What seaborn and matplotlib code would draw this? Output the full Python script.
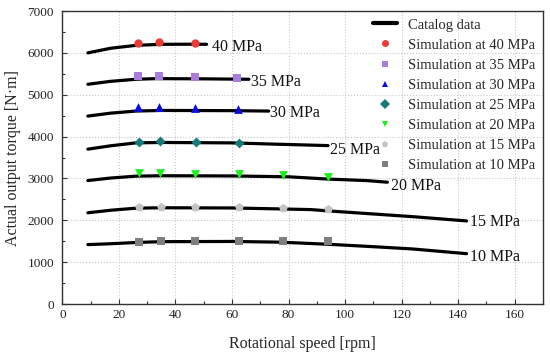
import matplotlib
matplotlib.use("Agg")
import matplotlib.pyplot as plt
from matplotlib.lines import Line2D
from matplotlib.ticker import MultipleLocator
import seaborn as sns
import pandas as pd

sns.set_theme(style="ticks")
plt.rcParams['font.family'] = ['Liberation Serif', 'DejaVu Serif']

pressures = [40, 35, 30, 25, 20, 15, 10]

# Catalog data (rpm, torque N·m)
cat_x = {
    40: [9, 17, 26, 35, 45, 51],
    35: [9, 17, 26, 33, 50, 66],
    30: [9, 17, 26, 35, 60, 73],
    25: [9, 17, 26, 35, 60, 75, 86, 94],
    20: [9, 17, 26, 35, 60, 80, 94, 108, 115],
    15: [9, 17, 26, 35, 60, 77, 88, 94, 124, 143],
    10: [9, 17, 26, 35, 60, 77, 94, 110, 124, 143],
}
cat_y = {
    40: [6000, 6110, 6180, 6205, 6207, 6205],
    35: [5250, 5320, 5370, 5385, 5380, 5370],
    30: [4490, 4560, 4610, 4625, 4620, 4610],
    25: [3700, 3780, 3850, 3860, 3850, 3820, 3800, 3785],
    20: [2950, 3010, 3055, 3065, 3060, 3040, 2985, 2948, 2910],
    15: [2180, 2240, 2290, 2300, 2295, 2272, 2256, 2225, 2087, 1985],
    10: [1420, 1440, 1470, 1490, 1495, 1478, 1428, 1370, 1315, 1203],
}

# Simulation results
sim_x = {
    40: [26.8, 34.3, 47.0],
    35: [26.8, 34.3, 47.0, 61.6],
    30: [26.8, 34.3, 47.0, 62.0],
    25: [27.0, 34.6, 47.2, 62.4],
    20: [27.0, 34.6, 46.8, 62.6, 78.2, 94.0],
    15: [27.0, 34.8, 47.0, 62.6, 78.2, 94.0],
    10: [27.0, 34.8, 47.0, 62.6, 78.2, 94.0],
}
sim_y = {
    40: [6245, 6250, 6235],
    35: [5450, 5455, 5430, 5394],
    30: [4700, 4710, 4690, 4660],
    25: [3879, 3885, 3870, 3840],
    20: [3124, 3124, 3115, 3110, 3075, 3028],
    15: [2326, 2330, 2326, 2320, 2287, 2270],
    10: [1490, 1506, 1510, 1510, 1513, 1500],
}

colors = {40: '#ec3b35', 35: '#a87ddb', 30: '#0a0ae6', 25: '#167a7a',
          20: '#1cf01c', 15: '#c3c3c3', 10: '#7f7f7f'}
markers = {40: 'o', 35: 's', 30: '^', 25: 'D', 20: 'v', 15: 'p', 10: 's'}
msize = {40: 36, 35: 32, 30: 40, 25: 26, 20: 40, 15: 44, 10: 32}

label_pos = {40: (52.8, 6150), 35: (66.8, 5300), 30: (73.6, 4557),
             25: (94.7, 3681), 20: (116.3, 2820), 15: (144.2, 1967),
             10: (144.2, 1130)}

cat_df = pd.concat([pd.DataFrame({'speed': cat_x[p], 'torque': cat_y[p], 'p': p})
                    for p in pressures])
sim_df = pd.concat([pd.DataFrame({'speed': sim_x[p], 'torque': sim_y[p], 'p': p})
                    for p in pressures])

fig = plt.figure(figsize=(5.5, 3.56), dpi=100)
ax = fig.add_axes([0.1135, 0.146, 0.8735, 0.823])

for p in pressures:
    sub = cat_df[cat_df['p'] == p]
    sns.lineplot(data=sub, x='speed', y='torque', color='black', lw=2.3,
                 sort=False, estimator=None, ax=ax, legend=False)
for p in pressures:
    sub = sim_df[sim_df['p'] == p]
    sns.scatterplot(data=sub, x='speed', y='torque', color=colors[p],
                    marker=markers[p], s=msize[p], linewidth=0, ax=ax,
                    legend=False, zorder=3)

for p in pressures:
    x, y = label_pos[p]
    ax.text(x, y, f"{p} MPa", fontsize=11.5, va='center', ha='left', color='#111111')

ax.set_xlim(0, 170)
ax.set_ylim(0, 7000)
ax.xaxis.set_major_locator(MultipleLocator(20))
ax.xaxis.set_minor_locator(MultipleLocator(10))
ax.yaxis.set_major_locator(MultipleLocator(1000))
ax.yaxis.set_minor_locator(MultipleLocator(500))
ax.tick_params(which='both', direction='in', colors='#333333', labelcolor='#222222',
               labelsize=9.5)
ax.tick_params(axis='y', which='both', pad=6)
ax.tick_params(which='major', length=3.5, width=0.8)
ax.tick_params(which='minor', length=2, width=0.8)
ax.grid(True, which='major', linestyle=':', color='#c8c8c8', linewidth=0.8)
for s in ax.spines.values():
    s.set_color('#333333')
    s.set_linewidth(1.0)

ax.set_xlabel('Rotational speed [rpm]', fontsize=11.5, labelpad=11)
ax.set_ylabel('Actual output torque [N·m]', fontsize=11.5, labelpad=5)

handles = [Line2D([], [], color='black', lw=3, label='Catalog data')]
for p in pressures:
    handles.append(Line2D([], [], color=colors[p], marker=markers[p], linestyle='None',
                          markersize=5, markeredgewidth=0,
                          label=f"Simulation at {p} MPa"))
ax.legend(handles=handles, loc='upper right', frameon=False, fontsize=10.5,
          handlelength=1.6, handletextpad=0.8, labelspacing=0.47,
          borderaxespad=0.1, bbox_to_anchor=(1.0, 1.0))

fig.savefig('out.png', dpi=100)
